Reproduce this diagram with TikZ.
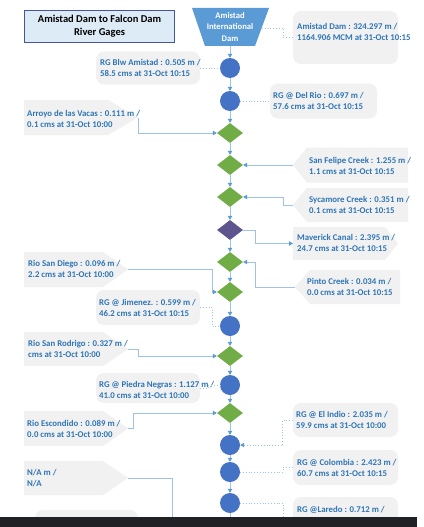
\documentclass[tikz,border=0pt]{standalone}
\usepackage{fontspec}
\setmainfont{Carlito}
\usetikzlibrary{shapes.geometric,arrows.meta}
\definecolor{txtblue}{RGB}{46,117,182}
\definecolor{calgrey}{RGB}{241,241,241}
\definecolor{circblue}{RGB}{68,114,196}
\definecolor{dgreen}{RGB}{112,173,71}
\definecolor{dpurple}{RGB}{94,84,142}
\definecolor{damblue}{RGB}{91,155,213}
\definecolor{titlefill}{RGB}{221,235,247}
\definecolor{titleborder}{RGB}{68,84,160}
\definecolor{linec}{RGB}{157,195,230}
\definecolor{arrowc}{RGB}{91,155,213}
\definecolor{barc}{RGB}{32,33,36}
\begin{document}
\begin{tikzpicture}[x=1pt,y=-1pt,
 gauge/.style={circle,fill=circblue,minimum size=20pt,inner sep=0},
 junction/.style={diamond,fill=dgreen,minimum width=26pt,minimum height=20pt,inner sep=0},
 outlet/.style={diamond,fill=dpurple,minimum width=26pt,minimum height=20pt,inner sep=0},
 lbl/.style={font=\bfseries\fontsize{8.8}{11}\selectfont,text=txtblue,align=left,inner sep=0,anchor=west},
 rbox/.style={rectangle,rounded corners=8pt,fill=calgrey,inner sep=0},
 pent/.style={fill=calgrey},
 flow/.style={draw=linec,line width=0.8pt,-{Triangle[length=4pt,width=4.5pt,color=arrowc,fill=arrowc]}},
 link/.style={draw=linec,line width=0.8pt},
 dotlink/.style={draw=linec,line width=0.8pt,dotted},
]
\useasboundingbox (0,0) rectangle (423,527);
\fill[white] (0,0) rectangle (423,527);

% title
\node[draw=titleborder,line width=1.5pt,fill=titlefill,minimum width=150pt,minimum height=32pt,inner sep=0,
  font=\bfseries\fontsize{10.5}{13}\selectfont,align=center] (title) at (99.5,26.5) {Amistad Dam to Falcon Dam\\River Gages};

% dam
\fill[damblue] (192,8) -- (269,8) -- (255,46) -- (205,46) -- cycle;
\node[font=\bfseries\fontsize{8.6}{11.5}\selectfont,text=white,align=center,minimum width=50pt,minimum height=38pt,inner sep=0] (dam) at (230,27) {Amistad\\International\\Dam};
\coordinate (damE) at (262,28);

% rounded callouts
\node[rbox,minimum width=105pt,minimum height=53pt] (amistadBox) at (345.5,37.5) {};
\node[lbl] (amistadTxt) at (297,32) {Amistad Dam : 324.297 m /\\1164.906 MCM at 31-Oct 10:15};
\node[rbox,minimum width=104pt,minimum height=33pt] (blwBox) at (148,68) {};
\node[lbl] (blwTxt) at (100,67.5) {RG Blw Amistad : 0.505 m /\\58.5 cms at 31-Oct 10:15};
\node[rbox,minimum width=107pt,minimum height=35pt] (delRioBox) at (323.5,101) {};
\node[lbl] (delRioTxt) at (273,101) {RG @ Del Rio : 0.697 m /\\57.6 cms at 31-Oct 10:15};
\node[rbox,minimum width=104pt,minimum height=35pt] (jimBox) at (148,307.5) {};
\node[lbl] (jimTxt) at (99,308) {RG @ Jimenez. : 0.599 m /\\46.2 cms at 31-Oct 10:15};
\node[rbox,minimum width=104pt,minimum height=30pt] (pnBox) at (148,388) {};
\node[lbl] (pnTxt) at (99,390) {RG @ Piedra Negras : 1.127 m /\\41.0 cms at 31-Oct 10:00};
\node[rbox,minimum width=105pt,minimum height=34pt] (elIndioBox) at (345.5,420) {};
\node[lbl] (elIndioTxt) at (296,420) {RG @ El Indio : 2.035 m /\\59.9 cms at 31-Oct 10:00};
\node[rbox,minimum width=105pt,minimum height=35pt] (colBox) at (345.5,467.5) {};
\node[lbl] (colTxt) at (297,467.5) {RG @ Colombia : 2.423 m /\\60.7 cms at 31-Oct 10:15};
\node[rbox,minimum width=105pt,minimum height=40pt] (laredoBox) at (345.5,517) {};
\node[lbl,anchor=base west] (laredoTxt) at (297,512) {RG @Laredo : 0.712 m /};
\node[rbox,minimum width=103pt,minimum height=30pt] (lowBox) at (86.5,525) {};

% pentagon callouts, left side
\fill[pent] (24,100) -- (108,100) -- (138,117.5) -- (108,135) -- (24,135) -- cycle;
\coordinate (arroyoTip) at (138,117.5);
\node[lbl] (arroyoTxt) at (27,118.5) {Arroyo de las Vacas : 0.111 m /\\0.1 cms at 31-Oct 10:00};
\fill[pent] (24,252) -- (103,252) -- (128,269.5) -- (103,287) -- (24,287) -- cycle;
\coordinate (sanDiegoTip) at (128,269.5);
\node[lbl] (sanDiegoTxt) at (28,268.5) {Rio San Diego : 0.096 m /\\2.2 cms at 31-Oct 10:00};
\fill[pent] (24,332) -- (103,332) -- (128,349) -- (103,366) -- (24,366) -- cycle;
\coordinate (sanRodrigoTip) at (128,349);
\node[lbl] (sanRodrigoTxt) at (28,349) {Rio San Rodrigo : 0.327 m /\\cms at 31-Oct 10:00};
\fill[pent] (24,411) -- (103,411) -- (128,428.5) -- (103,446) -- (24,446) -- cycle;
\coordinate (escondidoTip) at (128,428.5);
\node[lbl] (escondidoTxt) at (27,428.5) {Rio Escondido : 0.089 m /\\0.0 cms at 31-Oct 10:00};
\fill[pent] (24,461) -- (103,461) -- (128,478) -- (103,495) -- (24,495) -- cycle;
\coordinate (naTip) at (128,478);
\node[lbl] (naTxt) at (27,478) {N/A m /\\N/A};

% pentagon callouts, right side
\fill[pent] (293,165) -- (307,147.5) -- (408,147.5) -- (408,182.5) -- (307,182.5) -- cycle;
\coordinate (sanFelipeTip) at (293,165);
\node[lbl] (sanFelipeTxt) at (309,165.5) {San Felipe Creek : 1.255 m /\\1.1 cms at 31-Oct 10:15};
\fill[pent] (293,205) -- (307,188) -- (408,188) -- (408,222) -- (307,222) -- cycle;
\coordinate (sycTip) at (293,205);
\node[lbl] (sycTxt) at (309,204.5) {Sycamore Creek : 0.351 m /\\0.1 cms at 31-Oct 10:15};
\fill[pent] (293,227) -- (385,227) -- (398,243.5) -- (385,260) -- (293,260) -- cycle;
\coordinate (mavTail) at (293,243.5);
\node[lbl] (mavTxt) at (297,243) {Maverick Canal : 2.395 m /\\24.7 cms at 31-Oct 10:15};
\fill[pent] (295,287) -- (310,270) -- (400,270) -- (400,304) -- (310,304) -- cycle;
\coordinate (pintoTip) at (295,287);
\node[lbl] (pintoTxt) at (307,287) {Pinto Creek : 0.034 m /\\0.0 cms at 31-Oct 10:15};

% main column
\node[gauge] (c1) at (230,68) {};
\node[gauge] (c2) at (230,101) {};
\node[junction] (d1) at (230,133) {};
\node[junction] (d2) at (230,165) {};
\node[junction] (d3) at (230,197) {};
\node[outlet] (d4) at (230,230) {};
\node[junction] (d5) at (230,262) {};
\node[junction] (d6) at (230,292) {};
\node[gauge] (c3) at (230,326) {};
\node[junction] (d7) at (230,356) {};
\node[gauge] (c4) at (230,385) {};
\node[junction] (d8) at (230,413) {};
\node[gauge] (c5) at (230,445) {};
\node[gauge] (c6) at (230,472) {};
\node[gauge] (c7) at (230,503) {};
\coordinate (bottomEnd) at (230,522);
\coordinate (naEnd) at (172,522);

\draw[flow] (dam.south) -- (c1.north);
\foreach \a/\b in {c1/c2,c2/d1,d1/d2,d2/d3,d3/d4,d4/d5,d5/d6,d6/c3,c3/d7,d7/c4,c4/d8,d8/c5,c5/c6,c6/c7}
  \draw[flow] (\a.south) -- (\b.north);
\draw[link] (c7.south) -- (bottomEnd);

% tributary connectors
\draw[flow] (arroyoTip) |- (d1.west);
\draw[flow] (sanFelipeTip) -- (d2.east);
\draw[flow] (sycTip) -- ++(-10,0) |- (d3.east);
\draw[flow] (d4.east) -- ++(12,0) |- (mavTail);
\draw[flow] (pintoTip) -- ++(-40,0) |- (d5.east);
\draw[flow] (sanDiegoTip) -- ++(84,0) |- (d6.west);
\draw[flow] (sanRodrigoTip) -- ++(10,0) |- (d7.west);
\draw[flow] (escondidoTip) -- ++(5,0) |- (d8.west);
\draw[link] (naTip) -| (naEnd);

% gauge connectors
\draw[dotlink] (damE) -- (283,28) |- (amistadBox.west);
\draw[dotlink] (blwBox.east) -- (c1.west);
\draw[dotlink] (c2.east) -- (delRioBox.west);
\draw[dotlink] (jimBox.east) -- ++(12,0) |- (c3.west);
\draw[dotlink] (pnBox.east) -- ++(8,0) |- (c4.west);
\draw[dotlink,-{Triangle[length=4pt,width=4.5pt,color=arrowc,fill=arrowc]}] (elIndioBox.west) -- ++(-10,0) |- (c5.east);
\draw[dotlink] (c6.east) -- ++(43,0) |- (colBox.west);
\draw[dotlink] (c7.east) -- ++(43,0) |- (laredoBox.west);

% screen bar
\fill[barc] (0,517) rectangle (417,527);
\end{tikzpicture}
\end{document}
